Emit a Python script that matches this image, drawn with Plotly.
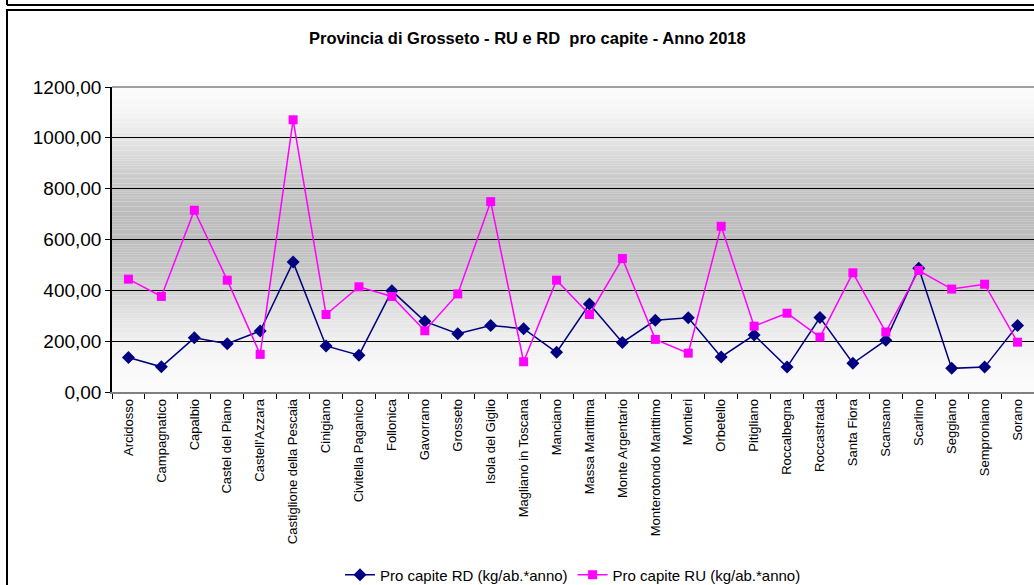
import plotly.graph_objects as go

comuni = ["Arcidosso", "Campagnatico", "Capalbio", "Castel del Piano", "Castell'Azzara",
          "Castiglione della Pescaia", "Cinigiano", "Civitella Paganico", "Follonica",
          "Gavorrano", "Grosseto", "Isola del Giglio", "Magliano in Toscana", "Manciano",
          "Massa Marittima", "Monte Argentario", "Monterotondo Marittimo", "Montieri",
          "Orbetello", "Pitigliano", "Roccalbegna", "Roccastrada", "Santa Fiora",
          "Scansano", "Scarlino", "Seggiano", "Semproniano", "Sorano"]

rd = [136, 99, 213, 190, 240, 511, 181, 145, 398, 278, 229, 262, 249, 156,
      346, 195, 282, 292, 138, 224, 98, 293, 113, 204, 487, 93, 98, 262]

ru = [444, 376, 715, 440, 148, 1071, 305, 414, 376, 241, 386, 749, 119, 440,
      305, 525, 207, 153, 652, 259, 310, 216, 469, 236, 478, 405, 424, 196]

y_ticks = [0, 200, 400, 600, 800, 1000, 1200]

title = "Provincia di Grosseto - RU e RD  pro capite - Anno 2018"
name_rd = "Pro capite RD (kg/ab.*anno)"
name_ru = "Pro capite RU (kg/ab.*anno)"

fig = go.Figure()
fig.add_trace(go.Scatter(x=comuni, y=rd, name=name_rd, mode="lines+markers",
                         line=dict(color="#000080", width=1.5),
                         marker=dict(symbol="diamond", size=10, color="#000080")))
fig.add_trace(go.Scatter(x=comuni, y=ru, name=name_ru, mode="lines+markers",
                         line=dict(color="#ff00ff", width=1.5),
                         marker=dict(symbol="square", size=9, color="#ff00ff")))

# gradient background (styling)
stops = [(0, 252), (100, 248), (200, 240), (300, 226), (400, 210), (500, 196),
         (600, 190), (700, 188), (800, 196), (900, 212), (1000, 230), (1100, 245), (1200, 252)]
def grey(v):
    for (a, ca), (b, cb) in zip(stops[:-1], stops[1:]):
        if a <= v <= b:
            t = (v - a) / (b - a)
            return int(round(ca + t * (cb - ca)))
    return 252

shapes = []
step = 10
for i in range(0, 1200, step):
    g = grey(i + step / 2)
    shapes.append(dict(type="rect", xref="paper", yref="y", x0=0, x1=1, y0=i, y1=i + step,
                       fillcolor=f"rgb({g},{g},{g})", line=dict(width=0), layer="below"))

def px_x(px):
    return (px - 112) / 922
def px_y(py):
    return (392 - py) / 305

# outer frames
shapes.append(dict(type="line", xref="paper", yref="paper", x0=px_x(7), x1=px_x(1040),
                   y0=px_y(5), y1=px_y(5), line=dict(color="black", width=2)))
shapes.append(dict(type="line", xref="paper", yref="paper", x0=px_x(7), x1=px_x(7),
                   y0=px_y(-5), y1=px_y(5), line=dict(color="black", width=2)))
shapes.append(dict(type="rect", xref="paper", yref="paper", x0=px_x(7), x1=px_x(1040),
                   y0=px_y(600), y1=px_y(10), line=dict(color="black", width=2)))
# plot top border
shapes.append(dict(type="line", xref="paper", yref="paper", x0=0, x1=1, y0=1, y1=1,
                   line=dict(color="#808080", width=1.5)))

fig.update_layout(
    width=1034, height=585,
    margin=dict(l=112, r=0, t=87, b=193),
    paper_bgcolor="white", plot_bgcolor="white",
    separators=",.",
    font=dict(family="Liberation Sans, Arial, sans-serif", color="black"),
    title=dict(text=f"<b>{title}</b>", x=0.51, xref="container", y=1 - 38 / 585,
               yref="container", xanchor="center", yanchor="middle",
               font=dict(size=16.5, color="black")),
    shapes=shapes,
    showlegend=True,
    legend=dict(orientation="h", x=0.5, xanchor="center", xref="paper",
                y=10 / 585, yref="container", yanchor="middle",
                font=dict(size=15), bgcolor="rgba(0,0,0,0)", tracegroupgap=0),
    xaxis=dict(type="category", range=[-0.5, 27.5], tickangle=-90, tickfont=dict(size=13),
               ticks="outside", tickson="boundaries", ticklen=5, tickcolor="black",
               showgrid=False, showline=True, linecolor="#808080", linewidth=1.5,
               zeroline=False, automargin=False),
    yaxis=dict(range=[0, 1200], tickvals=y_ticks, tickformat=".2f", tickfont=dict(size=19),
               ticks="outside", ticklen=5, tickcolor="black", showgrid=True,
               gridcolor="black", gridwidth=1, showline=True, linecolor="black",
               linewidth=1.5, zeroline=False, automargin=False),
)

fig.write_html("out.html", config={"displayModeBar": False},
               post_script="document.body.style.margin='0px';document.body.style.overflow='hidden';")
